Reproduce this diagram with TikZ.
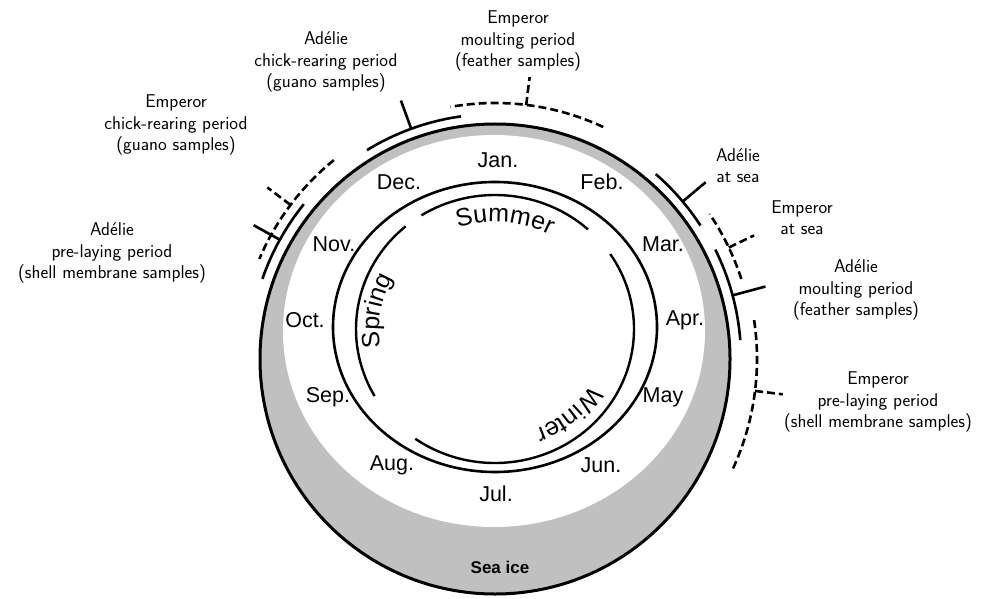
\documentclass[tikz,border=0pt]{standalone}
\usepackage{fontspec}
\setmainfont{Liberation Sans}
\usetikzlibrary{decorations.text}

\definecolor{seaice}{RGB}{192,192,192}
\newcommand{\seasonfont}{\fontsize{25}{25}\selectfont}
\tikzset{
	adelie/.style={line width=2.6pt},
	emperor/.style={line width=2.6pt, dash pattern=on 8pt off 4pt},
	month/.style={font=\fontsize{21.5}{21.5}\selectfont},
	note/.style={align=center, font=\sffamily\fontsize{18.5}{21.5}\selectfont},
	season/.style={decorate, decoration={text along path, text align=center, text={|\seasonfont|#1}}}
}

\begin{document}
\begin{tikzpicture}[x=1pt,y=1pt]
	\useasboundingbox (0,0) rectangle (987,598);
	\coordinate (O) at (495,239);
	\coordinate (M) at (495,271);
	\coordinate (S) at (495,269);

	% sea ice ring
	\fill[seaice] (O) circle (235pt);
	\fill[white] (494,267) ellipse (211pt and 196pt);
	\draw[line width=3pt] (O) circle (235pt);
	\node[font=\bfseries\fontsize{17}{17}\selectfont] (ice) at (500,31) {Sea ice};

	% months
	\draw[line width=2.6pt] (M) ellipse (162pt and 145pt);
	\node[month] (jan) at (498,438) {Jan.};
	\node[month] (feb) at (602,416) {Feb.};
	\node[month] (mar) at (663,354) {Mar.};
	\node[month] (apr) at (685,278) {Apr.};
	\node[month] (may) at (663,201) {May};
	\node[month] (jun) at (601,133) {Jun.};
	\node[month] (jul) at (496,104) {Jul.};
	\node[month] (aug) at (392,133) {Aug.};
	\node[month] (sep) at (328,201) {Sep.};
	\node[month] (oct) at (305,278) {Oct.};
	\node[month] (nov) at (334,354) {Nov.};
	\node[month] (dec) at (399,416) {Dec.};

	% seasons
	\draw[line width=2.4pt] ([shift={(48:139pt and 134pt)}]S) arc[start angle=48, end angle=122, x radius=139pt, y radius=134pt];
	\draw[line width=2.4pt] ([shift={(130:139pt and 134pt)}]S) arc[start angle=130, end angle=210, x radius=139pt, y radius=134pt];
	\draw[line width=2.4pt] ([shift={(-125:139pt and 134pt)}]S) arc[start angle=-125, end angle=34, x radius=139pt, y radius=134pt];
	\path[season=Summer] ([shift={(130:114pt and 107pt)}]S) arc[start angle=130, end angle=40, x radius=114pt, y radius=107pt];
	\path[season=Spring] ([shift={(216:116pt and 107pt)}]S) arc[start angle=216, end angle=126, x radius=116pt, y radius=107pt];
	\path[season=Winter] ([shift={(-5:113pt and 107pt)}]S) arc[start angle=-5, end angle=-95, x radius=113pt, y radius=107pt];

	% sampling periods
	\draw[adelie] ([shift={(98:245pt)}]O) arc[start angle=98, end angle=121.5, radius=245pt];
	\draw[adelie] ([shift={(110:245pt)}]O) -- ([shift={(110:275pt)}]O);
	\draw[emperor] ([shift={(65:256pt)}]O) arc[start angle=65, end angle=100, radius=256pt];
	\draw[emperor] ([shift={(83:256pt)}]O) -- ([shift={(83:284pt)}]O);
	\draw[adelie] ([shift={(33:245pt)}]O) arc[start angle=33, end angle=49, radius=245pt];
	\draw[adelie] ([shift={(40:245pt)}]O) -- ([shift={(40:275pt)}]O);
	\draw[emperor] ([shift={(18:259pt)}]O) arc[start angle=18, end angle=34, radius=259pt];
	\draw[emperor] ([shift={(25.5:259pt)}]O) -- ([shift={(25.5:287pt)}]O);
	\draw[adelie] ([shift={(4.4:246pt)}]O) arc[start angle=4.4, end angle=26.4, radius=246pt];
	\draw[adelie] ([shift={(15:246pt)}]O) -- ([shift={(15:280pt)}]O);
	\draw[emperor] ([shift={(-24.7:262pt)}]O) arc[start angle=-24.7, end angle=9, radius=262pt];
	\draw[emperor] ([shift={(-7:262pt)}]O) -- ([shift={(-7:290pt)}]O);
	\draw[emperor] ([shift={(129:256pt)}]O) arc[start angle=129, end angle=157, radius=256pt];
	\draw[emperor] ([shift={(143:256pt)}]O) -- ([shift={(143:285pt)}]O);
	\draw[adelie] ([shift={(141:246pt)}]O) arc[start angle=141, end angle=161, radius=246pt];
	\draw[adelie] ([shift={(151:246pt)}]O) -- ([shift={(151:276pt)}]O);

	% labels
	\node[note] (empMoult) at (518,557) {Emperor\\moulting period\\(feather samples)};
	\node[note] (adlChick) at (326,536) {Ad\'elie\\chick-rearing period\\(guano samples)};
	\node[note] (empChick) at (176,473) {Emperor\\chick-rearing period\\(guano samples)};
	\node[note] (adlLay) at (112,345) {Ad\'elie\\pre-laying period\\(shell membrane samples)};
	\node[note] (adlSea) at (738,432.5) {Ad\'elie\\at sea};
	\node[note] (empSea) at (802,380.5) {Emperor\\at sea};
	\node[note] (adlMoult) at (856,308) {Ad\'elie\\moulting period\\(feather samples)};
	\node[note] (empLay) at (878,196) {Emperor\\pre-laying period\\(shell membrane samples)};
\end{tikzpicture}
\end{document}
